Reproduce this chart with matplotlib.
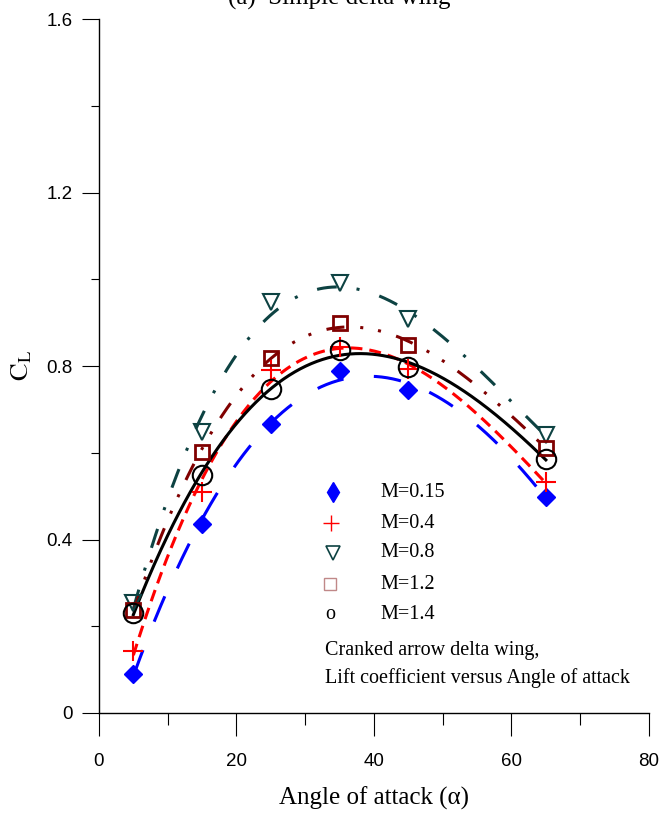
import numpy as np
import matplotlib
matplotlib.use("Agg")
import matplotlib.pyplot as plt
from matplotlib.ticker import MultipleLocator

plt.rcParams['mathtext.fontset'] = 'stix'

# ---------------- data ----------------
alpha = [5, 15, 25, 35, 45, 65]
cl_m015 = [0.090, 0.437, 0.667, 0.788, 0.746, 0.497]
cl_m04 = [0.143, 0.509, 0.792, 0.843, 0.794, 0.532]
cl_m08 = [0.253, 0.648, 0.949, 0.992, 0.909, 0.642]
cl_m12 = [0.237, 0.602, 0.819, 0.900, 0.849, 0.612]
cl_m14 = [0.230, 0.548, 0.748, 0.838, 0.799, 0.585]
labels = ["M=0.15", "M=0.4", "M=0.8", "M=1.2", "M=1.4"]
xticks = [0, 20, 40, 60, 80]
yticks = [0, 0.4, 0.8, 1.2, 1.6]

serif = ['Liberation Serif', 'DejaVu Serif']
narrow = ['Liberation Sans Narrow', 'Liberation Sans', 'DejaVu Sans']

fig = plt.figure(figsize=(6.6, 8.15), dpi=100)
ax = fig.add_axes([0.15, 0.1252, 0.8333, 0.8511])

lw = 2.2
series = [
    (cl_m015, '#0000ff', (0, (9, 10)), dict(marker='D', ms=9.5, mfc='#0000ff', mec='#0000ff')),
    (cl_m04, '#ff0000', (0, (3.9, 2.3)), dict(marker='+', ms=14, mec='#ff0000', mew=1.5)),
    (cl_m08, '#0d4242', (0, (6.5, 6.5, 1, 6.8)), dict(marker='v', ms=11, mfc='none', mec='#0d4242', mew=1.5)),
    (cl_m12, '#800000', (0, (5.9, 5.2, 1, 4.9, 1, 5.2)), dict(marker='s', ms=10, mfc='none', mec='#800000', mew=2)),
    (cl_m14, '#000000', '-', dict(marker='o', ms=14, mfc='none', mec='#000000', mew=1.5)),
]

xs = np.linspace(alpha[0], alpha[-1], 300)
for vals, col, ls, mk in series:
    coef = np.polyfit(alpha, vals, 3)
    ax.plot(xs, np.polyval(coef, xs), color=col, lw=lw, linestyle=ls, zorder=2)
    ax.plot(alpha, vals, linestyle='none', zorder=3, **mk)

ax.set_xlim(0, 80)
ax.set_ylim(0, 1.6)
ax.set_xticks(xticks)
ax.set_yticks(yticks)
ax.set_xticklabels([str(v) for v in xticks], family=narrow, fontsize=13.5)
ax.set_yticklabels(['0', '0.4', '0.8', '1.2', '1.6'], family=narrow, fontsize=13.5)
ax.xaxis.set_minor_locator(MultipleLocator(10))
ax.yaxis.set_minor_locator(MultipleLocator(0.2))
ax.tick_params(axis='x', which='major', direction='out', length=16.5, width=0.8, pad=12)
ax.tick_params(axis='x', which='minor', direction='out', length=8.6, width=0.8)
ax.tick_params(axis='y', which='major', direction='out', length=12.2, width=0.8, pad=7)
ax.tick_params(axis='y', which='minor', direction='out', length=5.8, width=0.8)
for s in ['top', 'right']:
    ax.spines[s].set_visible(False)
for s in ['left', 'bottom']:
    ax.spines[s].set_linewidth(1.0)

ax.set_xlabel('Angle of attack (α)', family=serif, fontsize=18, labelpad=12)
ax.set_ylabel(r'$\mathrm{C_L}$', fontsize=19)
ax.yaxis.set_label_coords(-0.118, (713 - 365) / 694)

# legend drawn by hand
leg_x_mk = 34.0
leg_x_tx = 41.0
leg_y = [0.5095, 0.438, 0.369, 0.297, 0.228]
ax.plot([leg_x_mk], [leg_y[0]], marker='d', ms=10, color='#0000ff', ls='none')
ax.plot([leg_x_mk - 0.3], [leg_y[1]], marker='+', ms=11, mec='#ff0000', mew=1.0, ls='none')
ax.plot([leg_x_mk], [leg_y[2]], marker='v', ms=10, mfc='none', mec='#0d4242', mew=1.2, ls='none')
ax.plot([leg_x_mk - 0.4], [leg_y[3]], marker='s', ms=8, mfc='none', mec='#c08888', mew=1.0, ls='none')
ax.text(leg_x_mk - 0.4, leg_y[4], 'o', family=serif, fontsize=14.5, ha='center', va='center')
for yy, lab in zip(leg_y, labels):
    ax.text(leg_x_tx, yy, lab, family=serif, fontsize=14.5, va='center', ha='left')
ax.text(32.9, 0.145, 'Cranked arrow delta wing,', family=serif, fontsize=14.5, va='center')
ax.text(32.9, 0.081, 'Lift coefficient versus Angle of attack', family=serif, fontsize=14.5, va='center')

fig.text(228 / 660, 1 - 5 / 815, '(a)  Simple delta wing', family=serif, fontsize=18,
         ha='left', va='baseline')

fig.savefig('out.png', dpi=100)
